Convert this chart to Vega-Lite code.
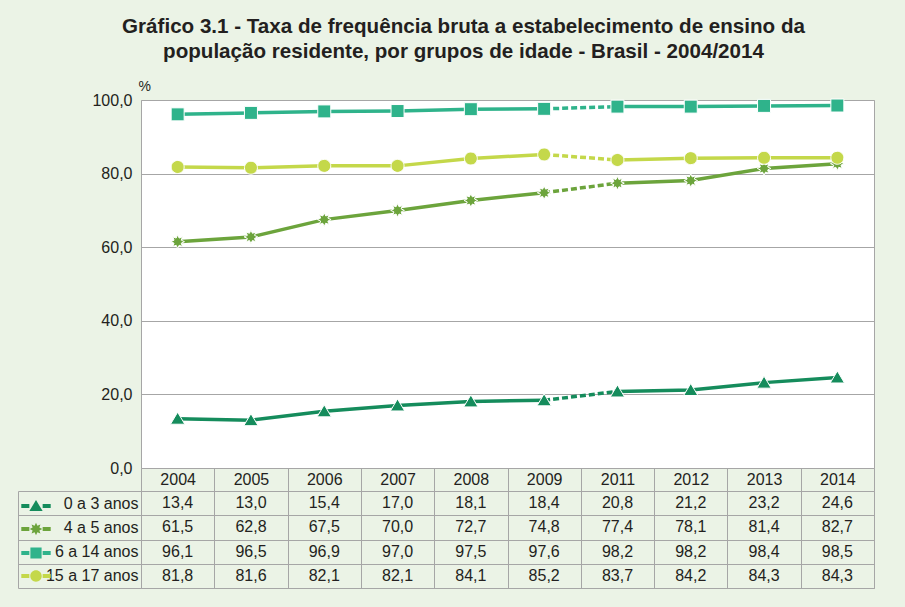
{
  "$schema": "https://vega.github.io/schema/vega-lite/v6.json",
  "background": "#ebf3e6",
  "padding": {"left": 17, "top": 17, "right": 30, "bottom": 18},
  "title": {
    "text": ["Gráfico 3.1 - Taxa de frequência bruta a estabelecimento de ensino da", "população residente, por grupos de idade - Brasil - 2004/2014"],
    "font": "Liberation Sans", "fontSize": 20.6, "fontWeight": "bold", "color": "#231f20",
    "lineHeight": 24.5, "anchor": "middle", "frame": "group", "dx": -44, "offset": 16
  },
  "data": {"values": [
    {"group": "0 a 3 anos", "year": "2004", "value": 13.4, "period": "2004-2009"},
    {"group": "0 a 3 anos", "year": "2005", "value": 13.0, "period": "2004-2009"},
    {"group": "0 a 3 anos", "year": "2006", "value": 15.4, "period": "2004-2009"},
    {"group": "0 a 3 anos", "year": "2007", "value": 17.0, "period": "2004-2009"},
    {"group": "0 a 3 anos", "year": "2008", "value": 18.1, "period": "2004-2009"},
    {"group": "0 a 3 anos", "year": "2009", "value": 18.4, "period": "2004-2009"},
    {"group": "0 a 3 anos", "year": "2011", "value": 20.8, "period": "2011-2014"},
    {"group": "0 a 3 anos", "year": "2012", "value": 21.2, "period": "2011-2014"},
    {"group": "0 a 3 anos", "year": "2013", "value": 23.2, "period": "2011-2014"},
    {"group": "0 a 3 anos", "year": "2014", "value": 24.6, "period": "2011-2014"},
    {"group": "4 a 5 anos", "year": "2004", "value": 61.5, "period": "2004-2009"},
    {"group": "4 a 5 anos", "year": "2005", "value": 62.8, "period": "2004-2009"},
    {"group": "4 a 5 anos", "year": "2006", "value": 67.5, "period": "2004-2009"},
    {"group": "4 a 5 anos", "year": "2007", "value": 70.0, "period": "2004-2009"},
    {"group": "4 a 5 anos", "year": "2008", "value": 72.7, "period": "2004-2009"},
    {"group": "4 a 5 anos", "year": "2009", "value": 74.8, "period": "2004-2009"},
    {"group": "4 a 5 anos", "year": "2011", "value": 77.4, "period": "2011-2014"},
    {"group": "4 a 5 anos", "year": "2012", "value": 78.1, "period": "2011-2014"},
    {"group": "4 a 5 anos", "year": "2013", "value": 81.4, "period": "2011-2014"},
    {"group": "4 a 5 anos", "year": "2014", "value": 82.7, "period": "2011-2014"},
    {"group": "6 a 14 anos", "year": "2004", "value": 96.1, "period": "2004-2009"},
    {"group": "6 a 14 anos", "year": "2005", "value": 96.5, "period": "2004-2009"},
    {"group": "6 a 14 anos", "year": "2006", "value": 96.9, "period": "2004-2009"},
    {"group": "6 a 14 anos", "year": "2007", "value": 97.0, "period": "2004-2009"},
    {"group": "6 a 14 anos", "year": "2008", "value": 97.5, "period": "2004-2009"},
    {"group": "6 a 14 anos", "year": "2009", "value": 97.6, "period": "2004-2009"},
    {"group": "6 a 14 anos", "year": "2011", "value": 98.2, "period": "2011-2014"},
    {"group": "6 a 14 anos", "year": "2012", "value": 98.2, "period": "2011-2014"},
    {"group": "6 a 14 anos", "year": "2013", "value": 98.4, "period": "2011-2014"},
    {"group": "6 a 14 anos", "year": "2014", "value": 98.5, "period": "2011-2014"},
    {"group": "15 a 17 anos", "year": "2004", "value": 81.8, "period": "2004-2009"},
    {"group": "15 a 17 anos", "year": "2005", "value": 81.6, "period": "2004-2009"},
    {"group": "15 a 17 anos", "year": "2006", "value": 82.1, "period": "2004-2009"},
    {"group": "15 a 17 anos", "year": "2007", "value": 82.1, "period": "2004-2009"},
    {"group": "15 a 17 anos", "year": "2008", "value": 84.1, "period": "2004-2009"},
    {"group": "15 a 17 anos", "year": "2009", "value": 85.2, "period": "2004-2009"},
    {"group": "15 a 17 anos", "year": "2011", "value": 83.7, "period": "2011-2014"},
    {"group": "15 a 17 anos", "year": "2012", "value": 84.2, "period": "2011-2014"},
    {"group": "15 a 17 anos", "year": "2013", "value": 84.3, "period": "2011-2014"},
    {"group": "15 a 17 anos", "year": "2014", "value": 84.3, "period": "2011-2014"}
  ]},
  "spacing": 23,
  "bounds": "flush",
  "resolve": {"scale": {"x": "independent", "y": "independent"}},
  "vconcat": [
    {
      "width": 733,
      "height": 368,
      "view": {"fill": "white", "stroke": "#a6a6a6"},
      "encoding": {
        "x": {"field": "year", "type": "ordinal", "scale": {"type": "point", "padding": 0.5}, "axis": null},
        "y": {"field": "value", "type": "quantitative", "scale": {"domain": [0, 100]},
          "axis": {"values": [0, 20, 40, 60, 80, 100], "format": ".1f", "title": "%", "titleAngle": 0,
            "titleX": -3, "titleY": -10, "titleAlign": "left", "titleBaseline": "alphabetic",
            "titleFontSize": 14, "titleFontWeight": "normal", "domain": false, "ticks": false, "tickSize": 0,
            "labelPadding": 9, "labelFontSize": 16, "grid": true, "gridColor": "#a6a6a6"}},
        "color": {"field": "group", "type": "nominal",
          "scale": {"domain": ["0 a 3 anos", "4 a 5 anos", "6 a 14 anos", "15 a 17 anos"],
                    "range": ["#158c5c", "#6ca43c", "#2fb38b", "#c4d84a"]},
          "legend": {"orient": "none", "legendX": -112, "legendY": 399, "title": null, "labelExpr": "''",
            "symbolSize": 196, "rowPadding": 10, "padding": 0,
            "encode": {"symbols": {"update": {
              "shape": {"signal": "datum.value === '0 a 3 anos' ? 'M-2.1,-0.27H-0.95V0.27H-2.1ZM0.95,-0.27H2.1V0.27H0.95ZM0,-0.86L0.95,0.73H-0.95Z' : datum.value === '4 a 5 anos' ? 'M-2.1,-0.27H-0.95V0.27H-2.1ZM0.95,-0.27H2.1V0.27H0.95ZM0.9,0L0.48,0.199L0.636,0.636L0.199,0.48L0,0.9L-0.199,0.48L-0.636,0.636L-0.48,0.199L-0.9,0L-0.48,-0.199L-0.636,-0.636L-0.199,-0.48L0,-0.9L0.199,-0.48L0.636,-0.636L0.48,-0.199Z' : datum.value === '6 a 14 anos' ? 'M-2.1,-0.27H-0.95V0.27H-2.1ZM0.95,-0.27H2.1V0.27H0.95ZM-0.8,-0.8H0.8V0.8H-0.8Z' : 'M-2.1,-0.27H-0.95V0.27H-2.1ZM0.95,-0.27H2.1V0.27H0.95ZM0.82,0A0.82,0.82,0,1,1,-0.82,0A0.82,0.82,0,1,1,0.82,0Z'"},
              "stroke": {"value": "transparent"},
              "strokeWidth": {"value": 0},
              "opacity": {"value": 1}
            }}}}
        }
      },
      "layer": [
        {"mark": {"type": "line", "strokeWidth": 3.5}, "encoding": {"detail": {"field": "period"}}},
        {"transform": [{"filter": "datum.year == '2009' || datum.year == '2011'"}],
         "mark": {"type": "line", "strokeWidth": 3.5, "strokeDash": [6, 3]}, "encoding": {}},
        {"mark": {"type": "point", "filled": true, "opacity": 1, "size": 169, "stroke": "white", "strokeWidth": 1},
         "encoding": {"shape": {"field": "group", "type": "nominal",
           "scale": {"domain": ["15 a 17 anos", "6 a 14 anos", "4 a 5 anos", "0 a 3 anos"],
             "range": ["M1,0A1,1,0,1,1,-1,0A1,1,0,1,1,1,0Z",
                       "M-1,-1H1V1H-1Z",
                       "M1.05,0L0.554,0.23L0.742,0.742L0.23,0.554L0,1.05L-0.23,0.554L-0.742,0.742L-0.554,0.23L-1.05,0L-0.554,-0.23L-0.742,-0.742L-0.23,-0.554L0,-1.05L0.23,-0.554L0.742,-0.742L0.554,-0.23Z",
                       "M0,-1L1.1,0.85H-1.1Z"]},
           "legend": null}}}
      ]
    },
    {
      "width": 733,
      "height": 97,
      "view": {"stroke": "#a6a6a6"},
      "mark": {"type": "text", "font": "Liberation Sans", "fontSize": 16, "color": "#231f20"},
      "encoding": {
        "x": {"field": "year", "type": "ordinal", "scale": {"type": "band", "paddingInner": 0, "paddingOuter": 0},
          "axis": {"orient": "top", "title": null, "tickBand": "extent", "tickSize": 23, "tickColor": "#a6a6a6",
            "domain": false, "grid": true, "gridColor": "#a6a6a6", "labelPadding": -11.5, "labelBaseline": "middle",
            "labelFontSize": 16, "labelAngle": 0}},
        "y": {"field": "group", "type": "nominal",
          "scale": {"type": "band", "domain": ["0 a 3 anos", "4 a 5 anos", "6 a 14 anos", "15 a 17 anos"], "paddingInner": 0, "paddingOuter": 0},
          "axis": {"orient": "left", "title": null, "offset": 123, "tickBand": "extent", "tickSize": -123,
            "domainColor": "#a6a6a6", "tickColor": "#a6a6a6", "grid": true, "gridColor": "#a6a6a6",
            "labelPadding": 3, "labelFontSize": 16}},
        "text": {"field": "value", "type": "quantitative", "format": ".1f"}
      }
    }
  ],
  "config": {
    "locale": {"number": {"decimal": ",", "thousands": ".", "grouping": [3], "currency": ["R$", ""]}},
    "font": "Liberation Sans",
    "axis": {"labelColor": "#231f20", "titleColor": "#231f20", "labelFont": "Liberation Sans", "titleFont": "Liberation Sans"}
  }
}
